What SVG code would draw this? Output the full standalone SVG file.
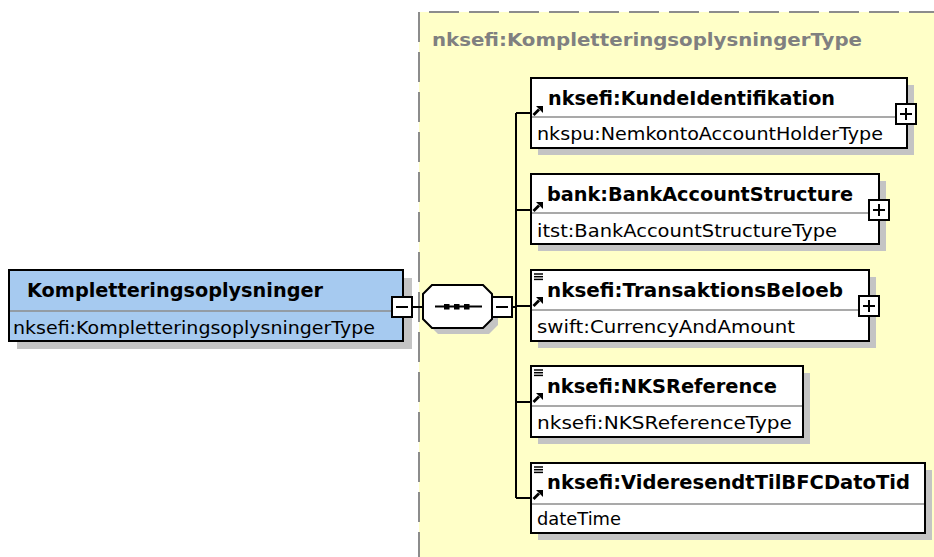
<svg xmlns="http://www.w3.org/2000/svg" width="934" height="557" viewBox="0 0 934 557">
<style>
.bg{fill:#FFFFC8}
.dash{stroke:#8C8C8C;stroke-width:2;stroke-dasharray:30 10;fill:none}
.title{font-family:"DejaVu Sans","Liberation Sans",sans-serif;font-weight:bold;font-size:18px;fill:#808080}
.shadow{fill:#C4C4C4}
.box{fill:#FFFFFF;stroke:#000;stroke-width:2}
.root{fill:#A6CAF0;stroke:#000;stroke-width:2}
.div{stroke:#8C8C8C;stroke-width:1.5}
.hdr{font-family:"DejaVu Sans","Liberation Sans",sans-serif;font-weight:bold;font-size:19px;fill:#000}
.typ{font-family:"DejaVu Sans","Liberation Sans",sans-serif;font-size:17.5px;fill:#000}
.line{stroke:#000;stroke-width:2;fill:none}
.btn{fill:#FFFFFF;stroke:#000;stroke-width:2}
.sign{stroke:#000;stroke-width:2}
.ico{stroke:#000;stroke-width:1.5}
</style>
<defs>
<g id="ref">
<line x1="0.5" y1="9" x2="6" y2="3.5" stroke="#000" stroke-width="2.8"/>
<polygon points="10,0 10,7 3,0" fill="#000"/>
</g>
<g id="lines">
<line x1="0" y1="0" x2="9" y2="0" class="ico"/>
<line x1="0" y1="2.7" x2="9" y2="2.7" class="ico"/>
<line x1="0" y1="5.4" x2="9" y2="5.4" class="ico"/>
</g>
</defs>
<rect x="0" y="0" width="934" height="557" fill="#FFFFFF"/>
<g id="complexType">
<rect class="bg" x="419" y="12" width="515" height="545"/>
<line class="dash" x1="429" y1="12" x2="934" y2="12"/>
<line class="dash" x1="419" y1="12" x2="419" y2="557"/>
<text class="title" x="432" y="46" textLength="430" lengthAdjust="spacingAndGlyphs">nksefi:KompletteringsoplysningerType</text>
</g>
<g id="connectors">
<line class="line" x1="412" y1="307" x2="423" y2="307"/>
<line class="line" x1="512" y1="307" x2="516" y2="307"/>
<line class="line" x1="516" y1="113" x2="516" y2="498"/>
<line class="line" x1="516" y1="113" x2="531" y2="113"/>
<line class="line" x1="516" y1="210" x2="531" y2="210"/>
<line class="line" x1="516" y1="306" x2="531" y2="306"/>
<line class="line" x1="516" y1="402" x2="531" y2="402"/>
<line class="line" x1="516" y1="498" x2="531" y2="498"/>
</g>
<g id="root">
<rect class="shadow" x="17" y="278" width="395" height="71"/>
<rect class="root" x="9" y="270" width="394" height="71"/>
<line class="div" x1="10" y1="311" x2="402" y2="311"/>
<text class="hdr" x="27" y="297" textLength="296" lengthAdjust="spacingAndGlyphs">Kompletteringsoplysninger</text>
<text class="typ" x="13" y="334" textLength="362" lengthAdjust="spacingAndGlyphs">nksefi:KompletteringsoplysningerType</text>
<rect class="btn" x="392" y="297" width="20" height="20"/>
<line class="sign" x1="396" y1="307" x2="408" y2="307"/>
</g>
<g id="sequence">
<polygon class="shadow" points="438,291 489,291 498,300 498,325 489,334 438,334 429,325 429,300"/>
<polygon class="box" points="432,285 483,285 492,294 492,319 483,328 432,328 423,319 423,294"/>
<line x1="435" y1="306.5" x2="482" y2="306.5" stroke="#000" stroke-width="2"/>
<rect x="444" y="304" width="5.5" height="5.5" fill="#000"/>
<rect x="454" y="304" width="5.5" height="5.5" fill="#000"/>
<rect x="464" y="304" width="5.5" height="5.5" fill="#000"/>
<rect class="btn" x="492" y="297" width="20" height="20"/>
<line class="sign" x1="496" y1="307" x2="508" y2="307"/>
</g>
<g id="kundeIdentifikation">
<rect class="shadow" x="538" y="85" width="376" height="70"/>
<rect class="box" x="531" y="78" width="376" height="70"/>
<line class="div" x1="532" y1="117" x2="906" y2="117"/>
<use href="#ref" x="533" y="106"/>
<text class="hdr" x="548" y="105" textLength="287" lengthAdjust="spacingAndGlyphs">nksefi:KundeIdentifikation</text>
<text class="typ" x="537" y="140" textLength="346" lengthAdjust="spacingAndGlyphs">nkspu:NemkontoAccountHolderType</text>
<rect class="btn" x="896" y="104" width="20" height="20"/>
<line class="sign" x1="900" y1="114" x2="912" y2="114"/>
<line class="sign" x1="906" y1="108" x2="906" y2="120"/>
</g>
<g id="bankAccountStructure">
<rect class="shadow" x="538" y="181" width="348" height="70"/>
<rect class="box" x="531" y="174" width="348" height="70"/>
<line class="div" x1="532" y1="213" x2="878" y2="213"/>
<use href="#ref" x="533" y="202"/>
<text class="hdr" x="547" y="201" textLength="306" lengthAdjust="spacingAndGlyphs">bank:BankAccountStructure</text>
<text class="typ" x="537" y="237" textLength="300" lengthAdjust="spacingAndGlyphs">itst:BankAccountStructureType</text>
<rect class="btn" x="869" y="200" width="20" height="20"/>
<line class="sign" x1="873" y1="210" x2="885" y2="210"/>
<line class="sign" x1="879" y1="204" x2="879" y2="216"/>
</g>
<g id="transaktionsBeloeb">
<rect class="shadow" x="538" y="277" width="338" height="71"/>
<rect class="box" x="531" y="270" width="338" height="71"/>
<line class="div" x1="532" y1="310" x2="868" y2="310"/>
<use href="#lines" x="534" y="274"/>
<use href="#ref" x="533" y="297"/>
<text class="hdr" x="547" y="297" textLength="296" lengthAdjust="spacingAndGlyphs">nksefi:TransaktionsBeloeb</text>
<text class="typ" x="537" y="333" textLength="258" lengthAdjust="spacingAndGlyphs">swift:CurrencyAndAmount</text>
<rect class="btn" x="859" y="296" width="20" height="20"/>
<line class="sign" x1="863" y1="306" x2="875" y2="306"/>
<line class="sign" x1="869" y1="300" x2="869" y2="312"/>
</g>
<g id="nksReference">
<rect class="shadow" x="538" y="373" width="272" height="71"/>
<rect class="box" x="531" y="366" width="272" height="71"/>
<line class="div" x1="532" y1="406" x2="802" y2="406"/>
<use href="#lines" x="534" y="370"/>
<use href="#ref" x="533" y="393"/>
<text class="hdr" x="547" y="393" textLength="230" lengthAdjust="spacingAndGlyphs">nksefi:NKSReference</text>
<text class="typ" x="537" y="429" textLength="255" lengthAdjust="spacingAndGlyphs">nksefi:NKSReferenceType</text>
</g>
<g id="videresendtTilBFCDatoTid">
<rect class="shadow" x="538" y="470" width="394" height="70"/>
<rect class="box" x="531" y="463" width="394" height="70"/>
<line class="div" x1="532" y1="504" x2="924" y2="504"/>
<use href="#lines" x="534" y="467"/>
<use href="#ref" x="533" y="490"/>
<text class="hdr" x="547" y="489" textLength="363" lengthAdjust="spacingAndGlyphs">nksefi:VideresendtTilBFCDatoTid</text>
<text class="typ" x="537" y="525" textLength="84" lengthAdjust="spacingAndGlyphs">dateTime</text>
</g>
</svg>
